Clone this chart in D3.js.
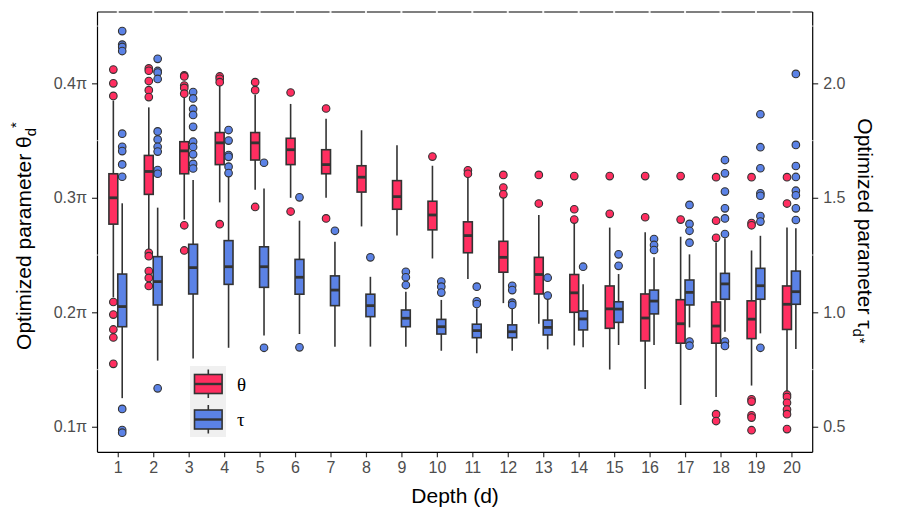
<!DOCTYPE html>
<html><head><meta charset="utf-8">
<script src="https://cdn.jsdelivr.net/npm/d3@7/dist/d3.min.js"></script>
<style>body{margin:0;background:#fff;} svg{display:block;}</style>
</head><body>
<svg id="chart" width="900" height="525"></svg>
<script>
// ---------- DATA ----------
const depths = [1,2,3,4,5,6,7,8,9,10,11,12,13,14,15,16,17,18,19,20];
// theta (in units of pi): upper quartile, median, lower quartile, upper whisker, lower whisker
const thetaQ3  = [0.321,0.337,0.349,0.357,0.357,0.352,0.342,0.328,0.315,0.297,0.279,0.262,0.248,0.233,0.223,0.216,0.211,0.209,0.210,0.223];
const thetaMed = [0.300,0.323,0.341,0.348,0.348,0.342,0.329,0.318,0.301,0.285,0.267,0.248,0.233,0.217,0.203,0.195,0.190,0.188,0.194,0.207];
const thetaQ1  = [0.277,0.303,0.321,0.329,0.333,0.329,0.321,0.305,0.290,0.272,0.252,0.235,0.216,0.200,0.186,0.175,0.173,0.173,0.177,0.185];
const thetaHi  = [0.385,0.379,0.388,0.398,0.390,0.382,0.369,0.359,0.346,0.328,0.318,0.301,0.285,0.278,0.274,0.270,0.266,0.261,0.254,0.274];
const thetaLo  = [0.213,0.254,0.281,0.296,0.307,0.300,0.300,0.275,0.267,0.247,0.229,0.208,0.190,0.171,0.150,0.133,0.119,0.126,0.136,0.131];
const thetaOut = [
  [0.412,0.400,0.389,0.209,0.198,0.185,0.178,0.155],
  [0.413,0.411,0.402,0.394,0.388,0.252,0.249,0.236,0.230,0.223],
  [0.407,0.406,0.398,0.396,0.391,0.276,0.254],
  [0.406,0.404,0.401,0.277],
  [0.401,0.394,0.292],
  [0.392,0.288],
  [0.378,0.282],
  [],
  [],
  [0.336],
  [0.324,0.321],
  [0.320,0.309,0.303],
  [0.320,0.295],
  [0.319,0.290,0.281],
  [0.319,0.286],
  [0.319,0.283],
  [0.319,0.281],
  [0.318,0.280,0.265,0.111,0.105],
  [0.318,0.278,0.276,0.124,0.122,0.110,0.108,0.097],
  [0.318,0.295,0.128,0.126,0.121,0.115,0.111,0.098]
];
// tau
const tauQ3  = [1.167,1.243,1.297,1.313,1.286,1.231,1.159,1.079,1.010,0.969,0.948,0.945,0.966,1.006,1.046,1.097,1.141,1.170,1.192,1.180];
const tauMed = [1.025,1.134,1.195,1.199,1.199,1.153,1.097,1.029,0.974,0.937,0.920,0.915,0.934,0.971,1.014,1.049,1.087,1.124,1.116,1.090];
const tauQ1  = [0.937,1.032,1.080,1.122,1.109,1.079,1.029,0.981,0.937,0.905,0.889,0.889,0.901,0.923,0.956,0.993,1.032,1.057,1.057,1.035];
const tauHi  = [1.476,1.457,1.578,1.595,1.541,1.400,1.308,1.155,1.090,1.054,1.017,1.017,1.054,1.122,1.167,1.240,1.253,1.323,1.334,1.367];
const tauLo  = [0.625,0.789,0.798,0.845,0.899,0.905,0.850,0.850,0.850,0.832,0.821,0.832,0.838,0.847,0.857,0.857,0.934,0.915,0.908,0.840];
const tauOut = [
  [2.228,2.169,2.159,2.141,1.780,1.723,1.704,1.646,1.592,0.578,0.486,0.474],
  [2.107,2.054,2.047,2.019,1.790,1.755,1.723,1.702,1.621,1.605,0.668],
  [1.962,1.934,1.888,1.862,1.810,1.745,1.722,1.690,1.648,1.628],
  [1.796,1.750,1.687,1.679,1.636,1.608],
  [1.653,0.845],
  [1.502,0.847],
  [1.356],
  [1.240],
  [1.177,1.153,1.119],
  [1.134,1.112,1.086],
  [1.112,1.048,1.036],
  [1.116,1.097,1.042,1.032],
  [1.151,1.073],
  [1.199],
  [1.253,1.203],
  [1.320,1.294,1.272],
  [1.469,1.386,1.356,1.304,0.872,0.854],
  [1.665,1.607,1.527,1.454,1.410,1.342,0.872,0.853],
  [1.865,1.721,1.629,1.520,1.509,1.420,1.396,0.845],
  [2.041,1.731,1.639,1.591,1.531,1.511,1.454,1.403]
];
const leftTicks = [0.1,0.2,0.3,0.4];
const leftTickLabels = ["0.1\u03c0","0.2\u03c0","0.3\u03c0","0.4\u03c0"];
const rightTicks = [0.5,1.0,1.5,2.0];
const rightTickLabels = ["0.5","1.0","1.5","2.0"];
const seriesNames = ["\u03b8","\u03c4"];

// ---------- LAYOUT ----------
const colTheta = "#FF2E60", colTau = "#5B82E6", dark = "#333333";
const L = 97.5, R = 812.7, T = 12, B = 452.3;
const svg = d3.select("#chart");
const x = d3.scalePoint().domain(depths).range([96.5, 812.7]).padding(0.6);
const step = x.step();
const yL = d3.scaleLinear().domain([0.0777, 0.4623]).range([B, T]);
const yR = d3.scaleLinear().domain([0.3885, 2.3115]).range([B, T]);
const bw = 0.25 * step, off = 0.125 * step;
const font = "'Liberation Sans', Arial, Helvetica, sans-serif";
const lw = 1.6;

function drawSeries(q3, med, q1, hi, lo, outs, y, dx, fill) {
  const g = svg.append("g");
  depths.forEach((d, i) => {
    const cx = x(d) + dx;
    g.append("line").attr("x1", cx).attr("x2", cx).attr("y1", y(hi[i])).attr("y2", y(q3[i]))
      .attr("stroke", dark).attr("stroke-width", lw);
    g.append("line").attr("x1", cx).attr("x2", cx).attr("y1", y(q1[i])).attr("y2", y(lo[i]))
      .attr("stroke", dark).attr("stroke-width", lw);
    g.append("rect").attr("x", cx - bw/2).attr("y", y(q3[i])).attr("width", bw)
      .attr("height", y(q1[i]) - y(q3[i])).attr("fill", fill).attr("stroke", dark).attr("stroke-width", lw);
    g.append("line").attr("x1", cx - bw/2).attr("x2", cx + bw/2).attr("y1", y(med[i])).attr("y2", y(med[i]))
      .attr("stroke", dark).attr("stroke-width", 2.8);
    outs[i].forEach(v => {
      g.append("circle").attr("cx", cx).attr("cy", y(v)).attr("r", 3.8)
        .attr("fill", fill).attr("stroke", dark).attr("stroke-width", 1.1);
    });
  });
}
drawSeries(thetaQ3, thetaMed, thetaQ1, thetaHi, thetaLo, thetaOut, yL, -off, colTheta);
drawSeries(tauQ3, tauMed, tauQ1, tauHi, tauLo, tauOut, yR, off, colTau);

// ---------- AXES ----------
const axL = svg.append("g").attr("transform", `translate(${L},0)`)
  .call(d3.axisLeft(yL).tickValues(leftTicks).tickFormat((d, i) => leftTickLabels[i]).tickSize(5.5).tickPadding(5));
const axR = svg.append("g").attr("transform", `translate(${R},0)`)
  .call(d3.axisRight(yR).tickValues(rightTicks).tickFormat((d, i) => rightTickLabels[i]).tickSize(5.5).tickPadding(5));
const axB = svg.append("g").attr("transform", `translate(0,${B})`)
  .call(d3.axisBottom(x).tickSize(5).tickPadding(4));
[axL, axR, axB].forEach(a => {
  a.select(".domain").remove();
  a.selectAll(".tick line").attr("stroke", dark).attr("stroke-width", 1.2);
  a.selectAll(".tick text").attr("fill", "#4d4d4d").style("font-family", font).style("font-size", "16px");
});
// axis lines
svg.append("line").attr("x1", L).attr("x2", L).attr("y1", T).attr("y2", B).attr("stroke", "#000").attr("stroke-width", 1.2);
svg.append("line").attr("x1", R).attr("x2", R).attr("y1", T).attr("y2", B).attr("stroke", "#000").attr("stroke-width", 1.2);
svg.append("line").attr("x1", L).attr("x2", R).attr("y1", B).attr("y2", B).attr("stroke", "#000").attr("stroke-width", 1.2);
svg.append("line").attr("x1", L).attr("x2", R).attr("y1", T).attr("y2", T).attr("stroke", "#000").attr("stroke-width", 1.2);
// faint gaps on frame lines
depths.forEach(d => {
  svg.append("rect").attr("x", x(d) - 1).attr("y", T - 1).attr("width", 2).attr("height", 2).attr("fill", "#fff").attr("opacity", 0.9);
});
[0.15, 0.25, 0.35, 0.45].forEach(v => {
  svg.append("rect").attr("x", L - 1).attr("y", yL(v) - 0.6).attr("width", 2).attr("height", 1.2).attr("fill", "#fff").attr("opacity", 0.6);
  svg.append("rect").attr("x", R - 1).attr("y", yL(v) - 0.6).attr("width", 2).attr("height", 1.2).attr("fill", "#fff").attr("opacity", 0.6);
});

// ---------- TITLES ----------
svg.append("text").attr("x", (L + R) / 2).attr("y", 503).attr("text-anchor", "middle")
  .style("font-family", font).style("font-size", "21px").attr("fill", "#000").text("Depth (d)");

const lt = svg.append("text").attr("transform", "translate(31,236) rotate(-90)").attr("text-anchor", "middle")
  .style("font-family", font).style("font-size", "21px").attr("fill", "#000");
lt.append("tspan").text("Optimized parameter \u03b8");
lt.append("tspan").attr("dy", 5).style("font-size", "15px").text("d");
lt.append("tspan").attr("dy", -15).style("font-size", "15px").text("*");

const rt = svg.append("text").attr("transform", "translate(858,231) rotate(90)").attr("text-anchor", "middle")
  .style("font-family", font).style("font-size", "21px").attr("fill", "#000");
rt.append("tspan").text("Optimized parameter \u03c4");
rt.append("tspan").attr("dy", 5).style("font-size", "15px").text("d");
rt.append("tspan").attr("dy", -2).attr("dx", 1).style("font-size", "15px").text("*");

// ---------- LEGEND ----------
const lg = svg.append("g");
lg.append("rect").attr("x", 190).attr("y", 366).attr("width", 36).attr("height", 71).attr("fill", "#f0f0f0");
[[colTheta, 366], [colTau, 401.5]].forEach(([c, y0], i) => {
  lg.append("line").attr("x1", 208.3).attr("x2", 208.3).attr("y1", y0 + 3.5).attr("y2", y0 + 32)
    .attr("stroke", dark).attr("stroke-width", lw);
  lg.append("rect").attr("x", 194.5).attr("y", y0 + 8.5).attr("width", 27.6).attr("height", 19)
    .attr("fill", c).attr("stroke", dark).attr("stroke-width", lw);
  lg.append("line").attr("x1", 194.5).attr("x2", 222.1).attr("y1", y0 + 18).attr("y2", y0 + 18)
    .attr("stroke", dark).attr("stroke-width", 2.4);
  lg.append("text").attr("x", 237).attr("y", y0 + 18).attr("dominant-baseline", "central")
    .style("font-family", "'Liberation Serif', 'Times New Roman', serif").style("font-size", "19px")
    .attr("fill", "#000").text(seriesNames[i]);
});
</script>
</body></html>
